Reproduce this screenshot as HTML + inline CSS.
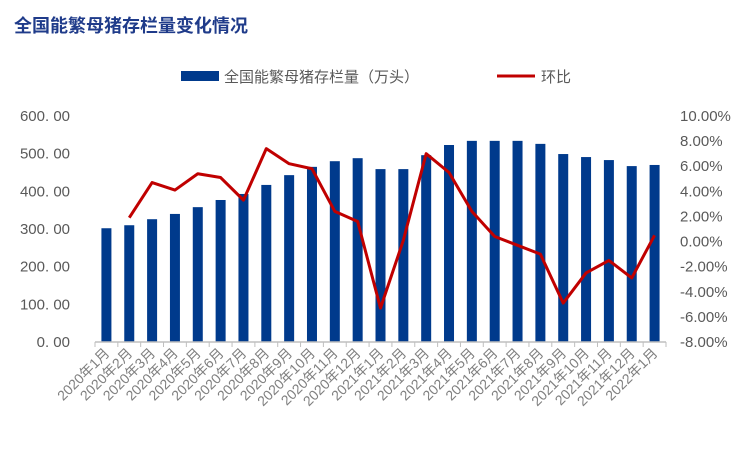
<!DOCTYPE html>
<html><head><meta charset="utf-8"><style>
body{margin:0;background:#fff;width:751px;height:450px;overflow:hidden}
svg text{font-family:"Liberation Sans","Noto Sans CJK SC",sans-serif}
</style></head><body>
<svg id="c" width="751" height="450">
<text x="14" y="32" font-size="18" font-weight="bold" fill="#1f3b8a">全国能繁母猪存栏量变化情况</text>
<g>
<rect x="181" y="71" width="38" height="10" fill="#003a8c"/>
<text x="224" y="82" font-size="15" fill="#595959">全国能繁母猪存栏量（万头）</text>
<line x1="497" y1="76" x2="535" y2="76" stroke="#c00000" stroke-width="3"/>
<text x="541" y="82" font-size="15" fill="#595959">环比</text>
</g>
<g id="plot"></g>
</svg>
<script>
const categories=["2020年1月","2020年2月","2020年3月","2020年4月","2020年5月","2020年6月","2020年7月","2020年8月","2020年9月","2020年10月","2020年11月","2020年12月","2021年1月","2021年2月","2021年3月","2021年4月","2021年5月","2021年6月","2021年7月","2021年8月","2021年9月","2021年10月","2021年11月","2021年12月","2022年1月"];
const stock=[302,310,326,340,358,377,393,417,443,465,480,488,459,459,496,523,534,534,534,526,499,491,483,467,470];
const mom=[null,1.9,4.7,4.1,5.4,5.1,3.3,7.4,6.2,5.8,2.4,1.6,-5.3,0.1,7.0,5.5,2.4,0.4,-0.3,-1.0,-4.9,-2.5,-1.5,-2.9,0.5];
const leftTicks=["0. 00","100. 00","200. 00","300. 00","400. 00","500. 00","600. 00"];
const rightTicks=["-8.00%","-6.00%","-4.00%","-2.00%","0.00%","2.00%","4.00%","6.00%","8.00%","10.00%"];
const NS="http://www.w3.org/2000/svg";
const g=document.getElementById('plot');
const X0=95,X1=666,YT=116,YB=342;
const step=(X1-X0)/categories.length;
const xc=i=>X0+step*(i+0.5);
const yL=v=>YB-(v/600)*(YB-YT);
const yR=v=>YB-((v+8)/18)*(YB-YT);
function mk(t,a){const e=document.createElementNS(NS,t);for(const k in a)e.setAttribute(k,a[k]);g.appendChild(e);return e;}
leftTicks.forEach((t,i)=>{const e=mk('text',{x:70,y:yL(i*100)+5,'font-size':15,fill:'#595959','text-anchor':'end'});e.textContent=t;

});
rightTicks.forEach((t,i)=>{const e=mk('text',{x:680,y:yR(-8+i*2)+5,'font-size':15,fill:'#595959'});e.textContent=t;

});
stock.forEach((v,i)=>{const r=mk('rect',{x:xc(i)-5,y:yL(v),width:10,height:YB-yL(v),fill:'#003a8c'});

});
const ax=mk('line',{x1:X0,y1:YB,x2:X1,y2:YB,stroke:'#bfbfbf','stroke-width':1.5});


for(let i=0;i<=categories.length;i++){const t=mk('line',{x1:X0+step*i,y1:YB,x2:X0+step*i,y2:YB+5,stroke:'#bfbfbf'});

}
categories.forEach((c,i)=>{const x=xc(i)+4,y=YB+12;const e=mk('text',{x:x,y:y,'font-size':14,fill:'#7f7f7f','text-anchor':'end',transform:`rotate(-45 ${x} ${y})`});e.textContent=c;

});
let d='';mom.forEach((v,i)=>{if(v===null)return;d+=(d?'L':'M')+xc(i)+' '+yR(v);});
const p=mk('path',{d:d,fill:'none',stroke:'#c00000','stroke-width':3,'stroke-linejoin':'round'});


</script>
</body></html>
